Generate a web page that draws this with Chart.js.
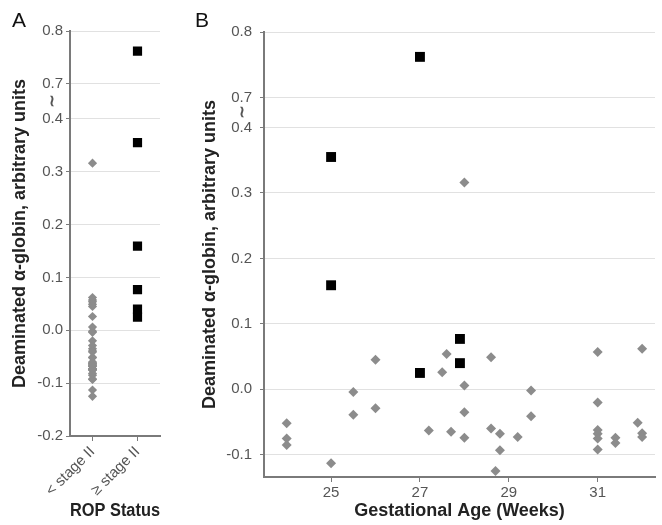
<!DOCTYPE html>
<html>
<head>
<meta charset="utf-8">
<script src="https://cdn.jsdelivr.net/npm/chart.js@4"></script>
<style>
  body { margin: 0; background: #fff; }
  #wrap { position: relative; width: 662px; height: 525px; }
  canvas { position: absolute; top: 0; }
  #chartA { left: 0; }
  #chartB { left: 190px; }
  .panel { position: absolute; top: 9px; font: 21px "Liberation Sans", Arial, sans-serif; line-height: 21px; color: #111; }
</style>
</head>
<body>
<div id="wrap">
  <canvas id="chartA" width="170" height="525"></canvas>
  <canvas id="chartB" width="472" height="525"></canvas>
  <div class="panel" style="left:12px">A</div>
  <div class="panel" style="left:195px">B</div>
</div>
<script>
const ropCategories = ['< stage II', '≥ stage II'];

// infants without ROP >= stage II (grey diamonds)
const noRopAge = [24, 24, 24, 25, 25.5, 25.5, 26, 26, 27.2, 27.5, 27.6, 27.7,
    28, 28, 28, 28, 28.6, 28.6, 28.8, 28.8, 28.7, 29.2, 29.5, 29.5,
    31, 31, 31, 31, 31, 31, 31.4, 31.4, 31.9, 32, 32, 32];
const noRopValue = [-0.052, -0.075, -0.085, -0.113, -0.004, -0.039, 0.045, -0.029, -0.063, 0.026, 0.054, -0.065,
    0.006, -0.035, -0.074, 0.316, 0.049, -0.060, -0.068, -0.093, -0.125, -0.073, -0.002, -0.041,
    0.057, -0.020, -0.062, -0.068, -0.075, -0.092, -0.074, -0.082, -0.051, 0.062, -0.067, -0.073];

// infants with ROP >= stage II (black squares)
const ropAge = [25, 25, 27, 27, 27.9, 27.9];
const ropValue = [0.355, 0.159, 0.762, 0.025, 0.077, 0.040];

const yTicksA = [-0.2, -0.1, 0.0, 0.1, 0.2, 0.3, 0.4, 0.7, 0.8];
const yTicksB = [-0.1, 0.0, 0.1, 0.2, 0.3, 0.4, 0.7, 0.8];
const xTicksB = [25, 27, 29, 31];

const FONT = '"Liberation Sans", Arial, sans-serif';
const GREY = '#8c8c8c';
const AXIS = '#7a7a7a';

// y axis is broken between 0.4 and 0.7
function toAxis(v, gap) {
    return v >= 0.7 ? v - 0.3 + gap : v;
}

const breakMark = {
    id: 'breakMark',
    afterDraw(chart, args, opts) {
        const y = chart.scales.y;
        const ctx = chart.ctx;
        const py = y.getPixelForValue(0.4 + opts.gap / 2);
        ctx.save();
        ctx.font = 'bold 16px ' + FONT;
        ctx.fillStyle = '#555';
        ctx.textAlign = 'center';
        ctx.textBaseline = 'middle';
        ctx.fillText('≀', y.right - opts.dx, py);
        ctx.restore();
    }
};

function yScale(ticks, gap, min, width, pad) {
    return {
        min: min,
        max: toAxis(0.8, gap),
        afterBuildTicks: s => { s.ticks = ticks.map(v => ({ value: toAxis(v, gap) })); },
        afterFit: s => { s.width = width; },
        ticks: {
            callback: (v, i) => ticks[i].toFixed(1),
            color: '#555',
            font: { family: FONT, size: 15 },
            padding: pad
        },
        grid: { color: '#e1e1e1', tickColor: AXIS, tickLength: 4 },
        border: { color: AXIS, width: 2 },
        title: {
            display: true,
            text: 'Deaminated α-globin, arbitrary units',
            color: '#222',
            font: { family: FONT, size: 18, weight: 'bold' },
            padding: { top: 9, bottom: 0 }
        }
    };
}

function xTitle(text) {
    return {
        display: true,
        text: text,
        color: '#222',
        font: { family: FONT, size: 18, weight: 'bold' },
        padding: { top: 0, bottom: 3 }
    };
}

const gapA = 0.066;
const gapB = 0.046;

new Chart(document.getElementById('chartA'), {
    type: 'scatter',
    data: {
        labels: ropCategories,
        datasets: [{
            data: noRopValue.map(v => ({ x: ropCategories[0], y: toAxis(v, gapA) })),
            pointStyle: 'rectRot',
            pointRadius: 4.6,
            backgroundColor: GREY,
            borderWidth: 0
        }, {
            data: ropValue.map(v => ({ x: ropCategories[1], y: toAxis(v, gapA) })),
            pointStyle: 'rect',
            pointRadius: 6.5,
            backgroundColor: '#000',
            borderWidth: 0
        }]
    },
    options: {
        responsive: false,
        animation: false,
        layout: { padding: { top: 31, right: 10, bottom: 0, left: 0 } },
        plugins: { legend: { display: false }, tooltip: { enabled: false }, breakMark: { gap: gapA, dx: 18 } },
        scales: {
            x: {
                type: 'category',
                labels: ropCategories,
                offset: true,
                afterFit: s => { s.height = 89; },
                ticks: {
                    color: '#555',
                    font: { family: FONT, size: 15 },
                    minRotation: 45,
                    maxRotation: 45,
                    autoSkip: false,
                    padding: 2
                },
                grid: { drawOnChartArea: false, tickColor: AXIS, tickLength: 5 },
                border: { color: AXIS, width: 2 },
                title: xTitle('ROP Status')
            },
            y: yScale(yTicksA, gapA, -0.2, 70, 3)
        }
    },
    plugins: [breakMark]
});

new Chart(document.getElementById('chartB'), {
    type: 'scatter',
    data: {
        datasets: [{
            data: noRopAge.map((a, i) => ({ x: a, y: toAxis(noRopValue[i], gapB) })),
            pointStyle: 'rectRot',
            pointRadius: 5,
            backgroundColor: GREY,
            borderWidth: 0
        }, {
            data: ropAge.map((a, i) => ({ x: a, y: toAxis(ropValue[i], gapB) })),
            pointStyle: 'rect',
            pointRadius: 7,
            backgroundColor: '#000',
            borderWidth: 0
        }]
    },
    options: {
        responsive: false,
        animation: false,
        layout: { padding: { top: 32, right: 2, bottom: 0, left: 0 } },
        plugins: { legend: { display: false }, tooltip: { enabled: false }, breakMark: { gap: gapB, dx: 22 } },
        scales: {
            x: {
                type: 'linear',
                min: 23.49,
                max: 32.29,
                afterBuildTicks: s => { s.ticks = xTicksB.map(v => ({ value: v })); },
                afterFit: s => { s.height = 48; },
                ticks: {
                    color: '#555',
                    font: { family: FONT, size: 15 },
                    padding: 2
                },
                grid: { drawOnChartArea: false, tickColor: AXIS, tickLength: 5 },
                border: { color: AXIS, width: 2 },
                title: xTitle('Gestational Age (Weeks)')
            },
            y: yScale(yTicksB, gapB, -0.134, 74, 8)
        }
    },
    plugins: [breakMark]
});
</script>
</body>
</html>
